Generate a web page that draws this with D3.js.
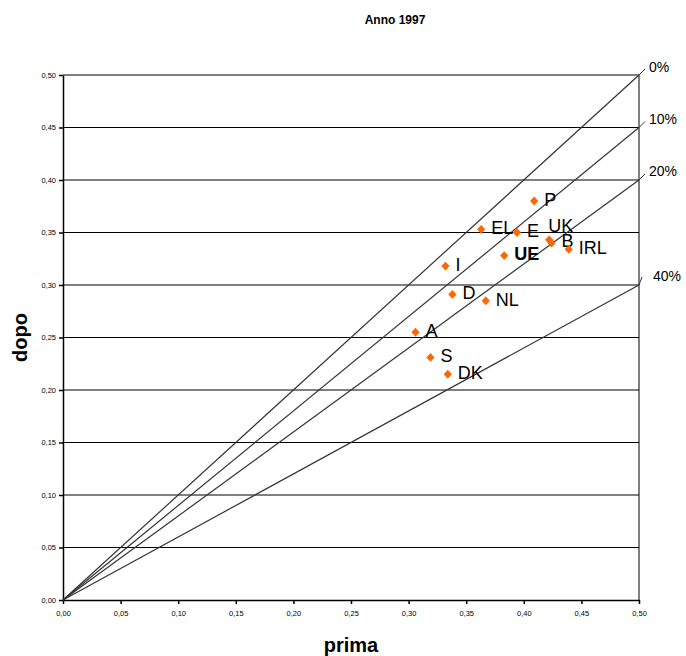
<!DOCTYPE html>
<html>
<head>
<meta charset="utf-8">
<script src="https://cdn.jsdelivr.net/npm/d3@7"></script>
<style>
  body { margin: 0; background: #fff; }
  svg text { font-family: Arial, "Liberation Sans", sans-serif; }
</style>
</head>
<body>
<div id="chart"></div>
<script>
// Countries: before (prima) vs after (dopo)
const countries = ['P', 'EL', 'E', 'UK', 'B', 'IRL', 'UE', 'I', 'D', 'NL', 'A', 'S', 'DK'];
const prima = [0.409, 0.363, 0.394, 0.422, 0.424, 0.439, 0.383, 0.332, 0.338, 0.367, 0.306, 0.319, 0.334];
const dopo  = [0.380, 0.353, 0.350, 0.343, 0.340, 0.334, 0.328, 0.318, 0.291, 0.285, 0.255, 0.231, 0.215];

// Reduction reference lines: dopo = prima * (1 - r)
const reductions = [0, 0.10, 0.20, 0.40];
const reductionLabels = ['0%', '10%', '20%', '40%'];

const ticks = [0, 0.05, 0.10, 0.15, 0.20, 0.25, 0.30, 0.35, 0.40, 0.45, 0.50];
const fmt = v => v.toFixed(2).replace('.', ',');

const W = 686, H = 656;
const margin = { top: 75, right: 47, bottom: 56, left: 63 };
const width = W - margin.left - margin.right;
const height = H - margin.top - margin.bottom;

const svg = d3.select('#chart').append('svg')
  .attr('width', W).attr('height', H);

const g = svg.append('g')
  .attr('transform', `translate(${margin.left},${margin.top})`);

const x = d3.scaleLinear().domain([0, 0.5]).range([0, width]);
const y = d3.scaleLinear().domain([0, 0.5]).range([height, 0]);

// Gridlines
g.append('g').selectAll('line').data(ticks.slice(1)).join('line')
  .attr('x1', 0).attr('x2', width)
  .attr('y1', d => y(d)).attr('y2', d => y(d))
  .attr('stroke', '#000').attr('stroke-width', 1);

// Right border
g.append('line')
  .attr('x1', width).attr('x2', width).attr('y1', 0).attr('y2', height)
  .attr('stroke', '#000').attr('stroke-width', 1);

// Axes
const yAxis = g.append('g')
  .call(d3.axisLeft(y).tickValues(ticks).tickFormat(fmt).tickSize(4).tickSizeOuter(0));
const xAxis = g.append('g')
  .attr('transform', `translate(0,${height})`)
  .call(d3.axisBottom(x).tickValues(ticks).tickFormat(fmt).tickSize(4).tickSizeOuter(0));
[yAxis, xAxis].forEach(a => {
  a.selectAll('path, line').attr('stroke', '#000').attr('stroke-width', 1.5);
  a.selectAll('text').attr('font-size', '7.5px').attr('fill', '#000')
    .style('font-family', 'Arial, "Liberation Sans", sans-serif');
});
xAxis.selectAll('text').attr('dy', '1.2em');

// Reference lines
const labelPos = [[10, -7], [10, -7], [10, -8], [14, -8]];
reductions.forEach((r, i) => {
  const yEnd = 0.5 * (1 - r);
  g.append('line')
    .attr('x1', x(0)).attr('y1', y(0))
    .attr('x2', x(0.5)).attr('y2', y(yEnd))
    .attr('stroke', '#333').attr('stroke-width', 1.2);
  // leader to label
  g.append('line')
    .attr('x1', x(0.5)).attr('y1', y(yEnd))
    .attr('x2', x(0.5) + (i === 3 ? 3 : 6)).attr('y2', y(yEnd) - (i === 3 ? 8 : 6))
    .attr('stroke', '#333').attr('stroke-width', 1);
  g.append('text')
    .attr('x', x(0.5) + labelPos[i][0]).attr('y', y(yEnd) + labelPos[i][1])
    .attr('dominant-baseline', 'middle')
    .attr('font-size', '14px').attr('fill', '#000')
    .text(reductionLabels[i]);
});

// Points
const diamond = 'M0,-4.4L4.1,0L0,4.4L-4.1,0Z';
countries.forEach((c, i) => {
  const px = x(prima[i]), py = y(dopo[i]);
  g.append('path')
    .attr('d', diamond)
    .attr('transform', `translate(${px},${py})`)
    .attr('fill', '#ff6600');
  const off = c === 'UK' ? [-1, -13] : (c === 'B' ? [10, -1] : [10, 0]);
  g.append('text')
    .attr('x', px + off[0]).attr('y', py + off[1])
    .attr('dominant-baseline', 'middle')
    .attr('font-size', '18px')
    .attr('font-weight', c === 'UE' ? 'bold' : 'normal')
    .attr('fill', '#000')
    .text(c);
});

// Title and axis labels
svg.append('text')
  .attr('x', 395).attr('y', 24)
  .attr('text-anchor', 'middle')
  .attr('font-size', '12px').attr('font-weight', 'bold')
  .text('Anno 1997');

svg.append('text')
  .attr('x', margin.left + width / 2).attr('y', 652)
  .attr('text-anchor', 'middle')
  .attr('font-size', '20px').attr('font-weight', 'bold')
  .text('prima');

svg.append('text')
  .attr('transform', `translate(27,${margin.top + height / 2}) rotate(-90)`)
  .attr('text-anchor', 'middle')
  .attr('font-size', '20px').attr('font-weight', 'bold')
  .text('dopo');
</script>
</body>
</html>
